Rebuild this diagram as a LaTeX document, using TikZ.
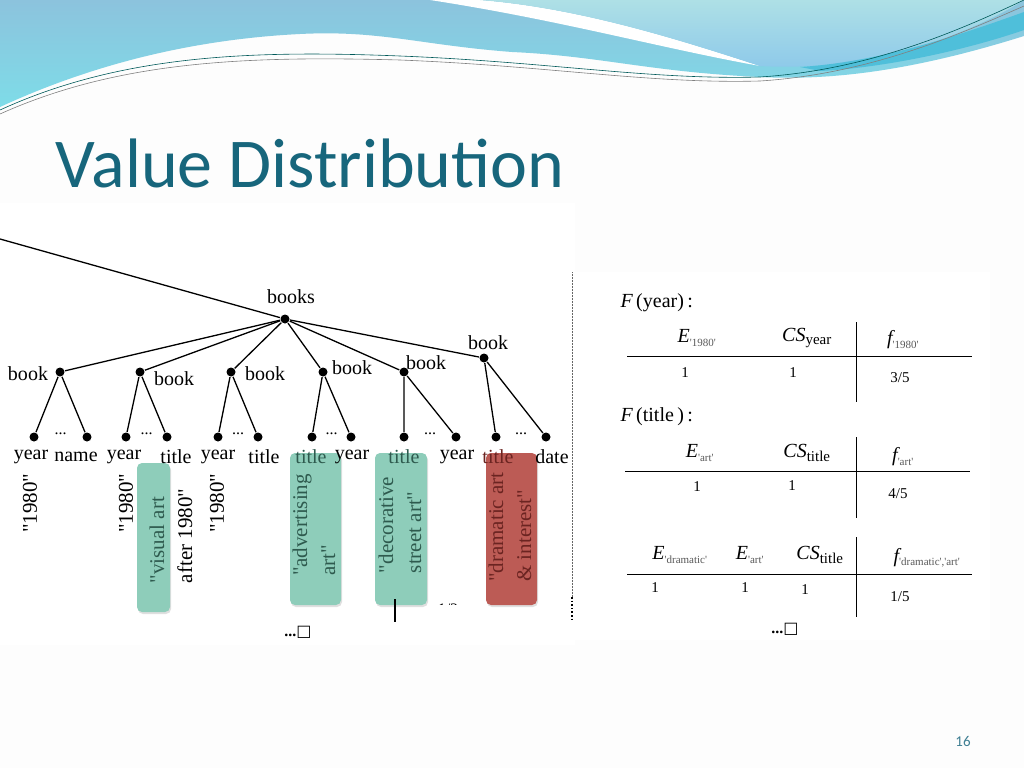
\documentclass[tikz,border=0pt]{standalone}
\usepackage{fontspec}
\setmainfont{Liberation Serif}
\newfontfamily\slidefont{Carlito}
\newfontfamily\symfont{DejaVu Sans}
\usetikzlibrary{shadows}
\definecolor{titleblue}{HTML}{17667C}
\definecolor{skyA}{HTML}{8CC3DD}
\definecolor{skyB}{HTML}{7EDCE8}
\definecolor{paleA}{HTML}{AEE0E6}
\definecolor{paleB}{HTML}{8CC8EA}
\definecolor{bandblue}{HTML}{4FBFDA}
\definecolor{hlgreen}{HTML}{8ECDBA}
\definecolor{hlred}{HTML}{BC5B55}
\definecolor{txgreen}{HTML}{2E5A4E}
\definecolor{txred}{HTML}{6B2421}
\definecolor{numcol}{HTML}{3F7F93}
\newcommand\qq{\textquotedbl}
\newcommand\q{\textquotesingle}
\newcommand\tsub[1]{\textsubscript{\fontsize{11}{11}\selectfont\color{gray!70!black}#1}}
\newcommand\csub[1]{\textsubscript{\fontsize{15}{15}\selectfont #1}}
\tikzset{
  dot/.style={circle,fill=black,inner sep=0pt,minimum size=9pt},
  lbl/.style={font=\fontsize{20}{22}\selectfont,inner sep=1pt},
  vlbl/.style={font=\fontsize{21}{28}\selectfont,rotate=90,align=left,inner sep=0pt},
  hlbox/.style={rounded corners=5pt,drop shadow={opacity=.25,shadow xshift=1pt,shadow yshift=-2pt}},
  cell/.style={font=\fontsize{20}{22}\selectfont,inner sep=0pt},
  num/.style={font=\fontsize{15}{16}\selectfont,inner sep=0pt},
  more/.style={font=\fontsize{16}{16}\selectfont\bfseries,inner sep=0pt},
}
\begin{document}
\begin{tikzpicture}[x=1pt,y=-1pt,line width=1.3pt]
  \useasboundingbox (0,0) rectangle (1024,768);
  \fill[gray!1.5] (0,0) rectangle (1024,768);
  \fill[white] (0,203) rectangle (575,645);
  \fill[white] (575,272) rectangle (990,640);

  %% top waves
  \shade[top color=skyA,bottom color=skyB] (0,0) -- (1024,0) -- (1024,36)
  .. controls (900,75) and (820,80) .. (760,77) .. controls (650,72) and (600,56) .. (512,52)
  .. controls (420,45) and (380,30) .. (300,34) .. controls (180,40) and (80,70) .. (0,107) -- cycle;
  \fill[white] (480,0) .. controls (580,8) and (680,40) .. (760,66)
  .. controls (660,48) and (560,20) .. (430,0) -- cycle;
  \shade[top color=paleA,bottom color=paleB] (480,0) .. controls (580,8) and (680,40) .. (760,66)
  .. controls (860,72) and (960,40) .. (1024,0) -- cycle;
  \fill[bandblue] (800,67) .. controls (880,62) and (960,35) .. (1024,12) -- (1024,30)
  .. controls (960,52) and (880,68) .. (820,71) -- cycle;
  \draw[teal!70!black,line width=.6pt] (0,110) .. controls (120,55) and (250,50) .. (400,56)
  .. controls (550,62) and (650,80) .. (760,77) .. controls (870,70) and (960,30) .. (1024,0);
  \draw[gray,line width=.6pt] (0,114) .. controls (120,60) and (250,56) .. (400,60)
  .. controls (550,66) and (650,84) .. (760,81) .. controls (870,74) and (960,34) .. (1024,6);

  \node[font=\slidefont\fontsize{70}{72}\selectfont,text=titleblue,anchor=base west,inner sep=0pt]
  (title) at (55,187) {Value Distribution};

  %% highlight boxes (behind the text)
  \fill[hlbox,hlgreen] (137,463) rectangle (170,612);
  \fill[hlbox,hlgreen] (290,453) rectangle (341,605);
  \fill[hlbox,hlgreen] (375,453) rectangle (427,605);
  \fill[hlbox,hlred] (486,453) rectangle (537,605);

  %% the tree
  \coordinate (edge) at (0,239);
  \node[dot] (books) at (285,319) {};
  \node[lbl] (booksL) at (291,297) {books};
  \draw (edge) -- (books);
  \foreach \n/\x/\y/\lx/\ly in {1/60/372/28/374, 2/140/372/174/379, 3/231/372/265/374,
    4/323/372/352/368, 5/404/372/426/363, 6/484/358/488/343} {
    \node[dot] (b\n) at (\x,\y) {};
    \node[lbl] (b\n L) at (\lx,\ly) {book};
    \draw (books) -- (b\n);
  }
  \foreach \n/\xa/\xb in {1/34/87, 2/126/167, 3/218/258, 4/312/351, 5/404/456, 6/496/546} {
    \node[dot] (l\n a) at (\xa,437) {};
    \node[dot] (l\n b) at (\xb,437) {};
    \draw (b\n) -- (l\n a) (b\n) -- (l\n b);
    \path (l\n a) -- (l\n b) node[midway,anchor=base,yshift=3pt,font=\fontsize{16}{16}\selectfont] {...};
  }
  \foreach \x/\t/\c [count=\i] in {31/year/black, 76/name/black, 124/year/black, 176/title/black,
    218/year/black, 264/title/black, 311/title/txgreen, 352/year/black, 404/title/txgreen,
    457/year/black, 498/title/txred, 552/date/black}
  \node[lbl,text=\c] (leaf\i) at (\x,457) {\t};

  %% values, read upwards
  \node[vlbl] (v1) at (30,503) {\qq1980\qq};
  \node[vlbl] (v2) at (126,503) {\qq1980\qq};
  \node[vlbl] (v3) at (171,536) {\textcolor{txgreen}{\qq visual art}\\after 1980\qq};
  \node[vlbl] (v4) at (217,503) {\qq1980\qq};
  \node[vlbl,text=txgreen] (v5) at (314,525) {\qq advertising\\art\qq};
  \node[vlbl,text=txgreen] (v6) at (400,525) {\qq decorative\\street art\qq};
  \node[vlbl,text=txred] (v7) at (510,527) {\qq dramatic art\\\& interest\qq};

  \draw[line width=1.2pt] (395,599) -- (395,622);
  \begin{scope}
    \clip (430,596) rectangle (470,604);
    \node[font=\fontsize{16}{16}\selectfont] (half) at (448,609) {1/2};
  \end{scope}
  \node[more] (moreL) at (298,632) {...{\symfont\mdseries □}};

  %% separator
  \draw[densely dotted,line width=.5pt,gray!80!black] (572,272) -- (572,597);
  \draw[dotted,line width=1.6pt] (572,597) -- (572,621);

  %% frequency tables
  \node[cell,anchor=west] (Fyear) at (620,303) {{\itshape F}\,(year)\,:};
  \node[cell] (h11) at (697,338) {{\itshape E}\tsub{\q1980\q}};
  \node[cell] (h12) at (807,338) {{\itshape CS}\csub{year}};
  \node[cell] (h13) at (903,340) {{\itshape f}\tsub{\q1980\q}};
  \draw[line width=1pt] (627,356) -- (972,356);
  \draw[line width=1pt] (856,322) -- (856,402);
  \node[num] (r11) at (685,373) {1};
  \node[num] (r12) at (793,373) {1};
  \node[num] (r13) at (900,378) {3/5};

  \node[cell,anchor=west] (Ftitle) at (620,417) {{\itshape F}\,(title\,)\,:};
  \node[cell] (h21) at (700,453) {{\itshape E}\tsub{\q art\q}};
  \node[cell] (h22) at (807,453) {{\itshape CS}\csub{title}};
  \node[cell] (h23) at (903,457) {{\itshape f}\tsub{\q art\q}};
  \draw[line width=1pt] (625,471) -- (970,471);
  \draw[line width=1pt] (856,437) -- (856,518);
  \node[num] (r21) at (697,487) {1};
  \node[num] (r22) at (792,486) {1};
  \node[num] (r23) at (898,494) {4/5};

  \node[cell] (h31) at (680,555) {{\itshape E}\tsub{\q dramatic\q}};
  \node[cell] (h32) at (750,555) {{\itshape E}\tsub{\q art\q}};
  \node[cell] (h33) at (820,555) {{\itshape CS}\csub{title}};
  \node[cell] (h34) at (927,558) {{\itshape f}\tsub{\q dramatic\q,\q art\q}};
  \draw[line width=1pt] (627,574) -- (972,574);
  \draw[line width=1pt] (856,537) -- (856,617);
  \node[num] (r31) at (655,588) {1};
  \node[num] (r32) at (745,588) {1};
  \node[num] (r33) at (805,590) {1};
  \node[num] (r34) at (900,597) {1/5};
  \node[more] (moreR) at (785,629) {...{\symfont\mdseries □}};

  \node[font=\slidefont\fontsize{15}{15}\selectfont,text=numcol] (pagenum) at (963,741) {16};
\end{tikzpicture}
\end{document}
